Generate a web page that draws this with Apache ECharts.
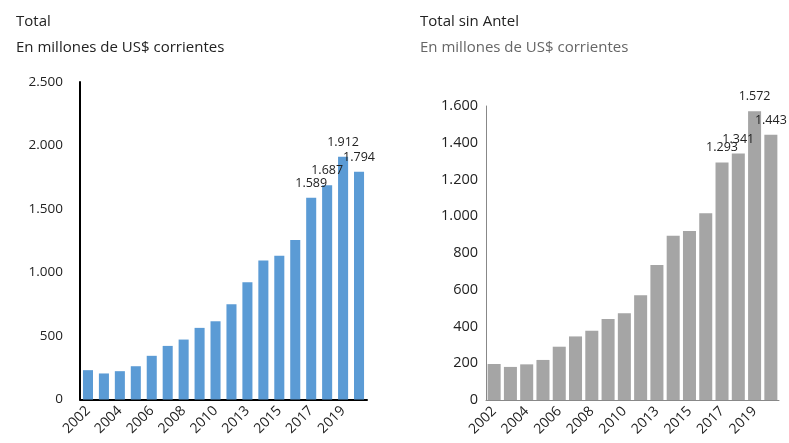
<!DOCTYPE html>
<html><head><meta charset="utf-8">
<script src="https://cdn.jsdelivr.net/npm/echarts@6/dist/echarts.min.js"></script>
<style>html,body{margin:0;padding:0;background:#fff}#c{width:789px;height:443px}</style>
</head><body><div id="c"></div>
<script>
const years = ['2002','2003','2004','2005','2006','2007','2008','2009','2010','2011','2013','2014','2015','2016','2017','2018','2019','2020'];
const totalValues = [231,205,223,262,344,422,472,564,616,750,923,1094,1131,1256,1589,1687,1912,1794];
const sinAntelValues = [196,180,194,218,290,346,377,441,472,570,735,894,920,1016,1293,1341,1572,1443];
const labeledFrom = 14;
const leftTicks = {min:0,max:2500,interval:500};
const rightTicks = {min:0,max:1600,interval:200};

const FONT = 'Open Sans';
const fmt = v => String(v).replace(/\B(?=(\d{3})+(?!\d))/g, '.');

const chart = echarts.init(document.getElementById('c'), null, {renderer:'canvas'});
function labelCfg(){
  return {show:true, position:'top', distance:8, fontFamily:FONT, fontSize:12.5, color:'#222',
    formatter: p => p.dataIndex >= labeledFrom ? fmt(p.value) : ''};
}
const titleStyle = c => ({fontFamily:FONT,fontSize:15,fontWeight:'normal',color:c});
chart.setOption({
  animation:false,
  title:[
    {text:'Total', left:11, top:9, textStyle:titleStyle('#222')},
    {text:'En millones de US$ corrientes', left:11, top:35, textStyle:titleStyle('#222')},
    {text:'Total sin Antel', left:415, top:9, textStyle:titleStyle('#222')},
    {text:'En millones de US$ corrientes', left:415, top:35, textStyle:titleStyle('#666')}
  ],
  grid:[
    {left:80, top:82, width:287, height:317.5},
    {left:486, top:106, width:293, height:294}
  ],
  xAxis:[
    {type:'category', gridIndex:0, data:years, axisTick:{show:false},
     axisLine:{lineStyle:{color:'#000',width:2}},
     axisLabel:{interval:1, rotate:45, margin:9, fontFamily:FONT, fontSize:14, color:'#222'}},
    {type:'category', gridIndex:1, data:years, axisTick:{show:false},
     axisLine:{lineStyle:{color:'#888',width:1}},
     axisLabel:{interval:1, rotate:45, margin:9, fontFamily:FONT, fontSize:14, color:'#222'}}
  ],
  yAxis:[
    {type:'value', gridIndex:0, min:leftTicks.min, max:leftTicks.max, interval:leftTicks.interval,
     splitLine:{show:false}, axisTick:{show:false},
     axisLine:{show:true, lineStyle:{color:'#000',width:2}},
     axisLabel:{margin:17, fontFamily:FONT, fontSize:13.5, color:'#222', formatter:fmt}},
    {type:'value', gridIndex:1, min:rightTicks.min, max:rightTicks.max, interval:rightTicks.interval,
     splitLine:{show:false}, axisTick:{show:false},
     axisLine:{show:true, lineStyle:{color:'#888',width:1}},
     axisLabel:{margin:8, fontFamily:FONT, fontSize:14.5, color:'#222', formatter:fmt}}
  ],
  series:[
    {type:'bar', xAxisIndex:0, yAxisIndex:0, data:totalValues, barCategoryGap:'37%',
     itemStyle:{color:'#5B9BD5'}, label:labelCfg()},
    {type:'bar', xAxisIndex:1, yAxisIndex:1, data:sinAntelValues, barCategoryGap:'20%',
     itemStyle:{color:'#A5A5A5'}, label:labelCfg()}
  ]
});
</script></body></html>
